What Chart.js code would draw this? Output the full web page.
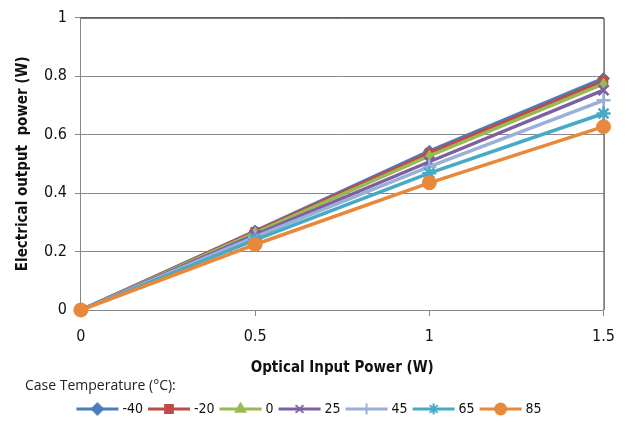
<!DOCTYPE html>
<html lang="en">
<head>
<meta charset="UTF-8">
<title>Electrical output power vs optical input power</title>
<script src="https://cdn.jsdelivr.net/npm/chart.js"></script>
<style>
    html, body { margin: 0; padding: 0; background: #fff; }
    #wrap { width: 626px; height: 426px; }
</style>
</head>
<body>
<div id="wrap"><canvas id="powerChart" width="626" height="426"></canvas></div>
<script>
    // data
    const inputPower = [0, 0.5, 1, 1.5];
    const caseTemps = ['-40', '-20', '0', '25', '45', '65', '85'];
    const out_m40 = [0, 0.27, 0.543, 0.792];
    const out_m20 = [0, 0.268, 0.537, 0.784];
    const out_0   = [0, 0.264, 0.527, 0.773];
    const out_25  = [0, 0.257, 0.507, 0.752];
    const out_45  = [0, 0.25, 0.49, 0.717];
    const out_65  = [0, 0.24, 0.468, 0.672];
    const out_85  = [0, 0.224, 0.435, 0.627];
    const seriesValues = [out_m40, out_m20, out_0, out_25, out_45, out_65, out_85];
    const yTicks = [0, 0.2, 0.4, 0.6, 0.8, 1];
    const xTicks = [0, 0.5, 1, 1.5];

    const colors = ['#4a7ebb', '#be4b48', '#98b954', '#7d60a0', '#9bb0d8', '#46aac5', '#e8883a'];
    const styles = ['rectRot', 'rect', 'triangle', 'crossRot', 'cross', 'star', 'circle'];
    const radii  = [6, 6, 6, 7, 7, 7, 7];

    const narrow = "'DejaVu Sans Condensed', 'Liberation Sans Narrow', sans-serif";

    function legendIcon(i) {
        const c = document.createElement('canvas');
        c.width = 44; c.height = 14;
        const g = c.getContext('2d');
        g.strokeStyle = colors[i];
        g.fillStyle = colors[i];
        g.lineWidth = 3;
        g.beginPath(); g.moveTo(1, 7); g.lineTo(43, 7); g.stroke();
        g.lineWidth = 2;
        Chart.helpers.drawPoint(g, { pointStyle: styles[i], radius: 5.5, rotation: 0, borderWidth: 2 }, 22, 7);
        return c;
    }

    // plot frame: dark top and right edges, drawn under the lines
    const frame = {
        id: 'frame',
        afterLayout(chart) {
            // caption sits a little in from the left edge
            if (chart.titleBlock) chart.titleBlock.left += 11;
        },
        beforeDatasetsDraw(chart) {
            const a = chart.chartArea, ctx = chart.ctx;
            ctx.save();
            ctx.strokeStyle = '#222';
            ctx.lineWidth = 1;
            ctx.beginPath();
            ctx.moveTo(a.left, a.top + 0.5);
            ctx.lineTo(a.right + 0.5, a.top + 0.5);
            ctx.lineTo(a.right + 0.5, a.bottom);
            ctx.stroke();
            ctx.restore();
        }
    };

    const datasets = caseTemps.map((t, i) => ({
        label: t,
        data: inputPower.map((x, k) => ({ x: x, y: seriesValues[i][k] })),
        borderColor: colors[i],
        backgroundColor: colors[i],
        borderWidth: 3.5,
        pointStyle: styles[i],
        pointRadius: radii[i],
        pointBorderWidth: (styles[i] === 'cross' || styles[i] === 'crossRot' || styles[i] === 'star') ? 2.5 : 1,
        clip: false,
        order: caseTemps.length - i
    }));

    new Chart(document.getElementById('powerChart'), {
        type: 'line',
        data: { datasets: datasets },
        plugins: [frame],
        options: {
            responsive: false,
            animation: false,
            layout: { padding: { left: 14, right: 19, top: 6, bottom: 0 } },
            plugins: {
                tooltip: { enabled: false },
                title: {
                    display: true,
                    text: 'Case Temperature (°C):',
                    position: 'bottom',
                    align: 'start',
                    weight: 500,
                    color: '#222',
                    font: { family: "'Open Sans', sans-serif", size: 14, weight: 'normal' },
                    padding: { top: 0, bottom: 0 }
                },
                legend: {
                    position: 'bottom',
                    labels: {
                        usePointStyle: true,
                        pointStyleWidth: 36,
                        boxHeight: 14,
                        padding: 8,
                        color: '#111',
                        font: { family: narrow, size: 14 },
                        generateLabels(chart) {
                            return chart.data.datasets.map((d, i) => ({
                                text: d.label,
                                pointStyle: legendIcon(i),
                                fillStyle: colors[i],
                                strokeStyle: colors[i],
                                lineWidth: 0,
                                hidden: false,
                                datasetIndex: i,
                                fontColor: '#111'
                            }));
                        }
                    }
                }
            },
            scales: {
                x: {
                    type: 'linear',
                    min: 0, max: 1.5,
                    afterBuildTicks(axis) { axis.ticks = xTicks.map(v => ({ value: v })); },
                    grid: { drawOnChartArea: false, tickLength: 6, color: '#888' },
                    border: { color: '#888', width: 1 },
                    ticks: { color: '#111', font: { family: narrow, size: 16 }, padding: 11, callback: v => String(v) },
                    title: {
                        display: true,
                        text: 'Optical Input Power (W)',
                        color: '#111',
                        font: { family: narrow, size: 15, weight: 'bold' },
                        padding: { top: 2, bottom: 0 }
                    }
                },
                y: {
                    min: 0, max: 1,
                    afterBuildTicks(axis) { axis.ticks = yTicks.map(v => ({ value: v })); },
                    grid: { color: '#8a8a8a', tickLength: 6 },
                    border: { color: '#888', width: 1 },
                    ticks: { color: '#111', font: { family: narrow, size: 16 }, padding: 8, callback: v => String(v) },
                    title: {
                        display: true,
                        text: 'Electrical output  power (W)',
                        color: '#111',
                        font: { family: narrow, size: 15, weight: 'bold' },
                        padding: { top: 0, bottom: 4 }
                    }
                }
            }
        }
    });
</script>
</body>
</html>
